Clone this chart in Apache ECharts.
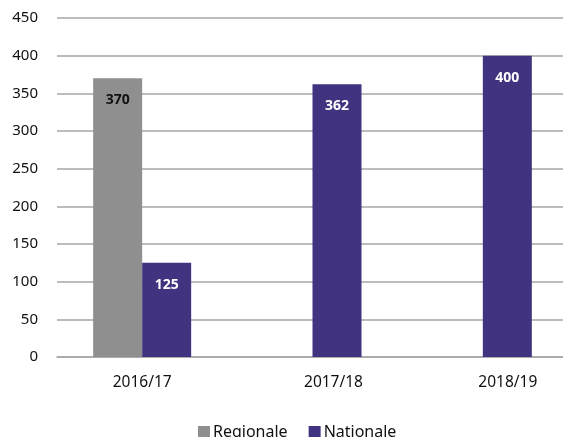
<!DOCTYPE html>
<html><head><meta charset="utf-8">
<script src="https://cdn.jsdelivr.net/npm/echarts@6/dist/echarts.min.js"></script>
<style>html,body{margin:0;padding:0;background:#fff}#c{width:563px;height:437px}</style>
</head><body><div id="c"></div>
<script>
const categories = ['2016/17', '2017/18', '2018/19'];
const regionale = [370, null, null];
const nationale = [125, 362, 400];
const yTicks = [0, 50, 100, 150, 200, 250, 300, 350, 400, 450];

const labelShift = {'2016/17': 'a', '2017/18': 'b', '2018/19': 'c'};
const chart = echarts.init(document.getElementById('c'));
const font = 'Noto Sans';
chart.setOption({
  animation: false,
  textStyle: {fontFamily: font},
  grid: {left: 57, width: 511, top: 18, height: 339, outerBoundsMode: 'none', containLabel: false},
  legend: {
    left: 198, top: 424, padding: 0, itemWidth: 12, itemHeight: 12, itemGap: 21,
    icon: 'rect',
    textStyle: {fontFamily: font, fontSize: 16, color: '#111', padding: [0, 0, 8, -2]},
    data: ['Regionale', 'Nationale']
  },
  xAxis: {
    type: 'category', data: categories,
    axisLine: {lineStyle: {color: '#a6a6a6', width: 1.5}},
    axisTick: {show: false},
    axisLabel: {
      margin: 18, fontSize: 15, color: '#111', fontFamily: font,
      formatter: v => '{' + labelShift[v] + '|' + v + '}',
      rich: {
        a: {fontSize: 15.5, fontFamily: font, color: '#111'},
        b: {fontSize: 15.5, fontFamily: font, color: '#111', padding: [0, 0, 0, 42]},
        c: {fontSize: 15.5, fontFamily: font, color: '#111', padding: [0, 0, 0, 50]}
      }
    }
  },
  yAxis: {
    type: 'value', min: yTicks[0], max: yTicks[yTicks.length - 1], interval: 50,
    axisLine: {show: false}, axisTick: {show: false},
    axisLabel: {margin: 19, fontSize: 15, color: '#111', fontFamily: font},
    splitLine: {lineStyle: {color: '#a6a6a6', width: 1.5}}
  },
  series: [
    {
      name: 'Regionale', type: 'bar', data: regionale, barWidth: 49, barGap: '0%',
      itemStyle: {color: '#8f8f8f'},
      label: {show: true, position: 'insideTop', distance: 15, fontSize: 14, fontWeight: 'bold', color: '#111', fontFamily: font}
    },
    {
      name: 'Nationale', type: 'bar', data: nationale, barWidth: 49,
      itemStyle: {color: '#41337f'},
      label: {show: true, position: 'insideTop', distance: 15, fontSize: 14, fontWeight: 'bold', color: '#fff', fontFamily: font}
    }
  ]
});
</script></body></html>
